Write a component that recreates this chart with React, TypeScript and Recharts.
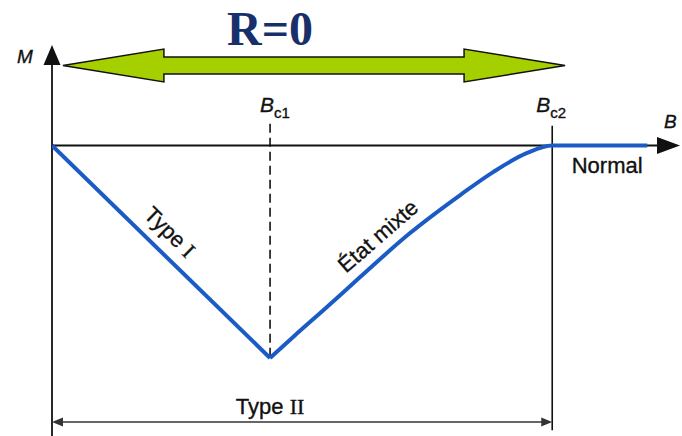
import React from 'react';
import { LineChart, Line, XAxis, YAxis, ReferenceLine, ReferenceArea, ReferenceDot } from 'recharts';

// branche Type I : droite de l'origine jusqu'a Bc1
const typeIB = [0, 1];
const typeIM = [0, -1];

// état mixte puis état normal (M = 0 au-dela de Bc2)
const mixteB = [1, 1.106, 1.261, 1.413, 1.642, 1.872, 2.023, 2.179, 2.294, 2.73];
const mixteM = [-1, -0.901, -0.76, -0.619, -0.412, -0.233, -0.125, -0.035, 0, 0];

const BC1 = 1;
const BC2 = 2.294;
const B_MAX = 2.88;
const M_MIN = -1.367;
const M_MAX = 0.473;

const typeIData = typeIB.map((b, i) => ({ b, m: typeIM[i] }));
const mixteData = mixteB.map((b, i) => ({ b, m: mixteM[i] }));

const SANS = '"Liberation Sans", Arial, sans-serif';
const SERIF = '"Liberation Serif", "Times New Roman", serif';
const BLUE = '#1a5bc6';
const INK = '#111';

// line with arrow head(s), used for the axes and the Type II span
const arrowLine = (both: boolean, len: number, half: number, color: string, width: number) => (p: any) => {
    const { x1, y1, x2, y2 } = p;
    const dx = x2 - x1;
    const dy = y2 - y1;
    const L = Math.hypot(dx, dy) || 1;
    const ux = dx / L;
    const uy = dy / L;
    const head = (tx: number, ty: number, sx: number, sy: number) => {
        const bx = tx - sx * len;
        const by = ty - sy * len;
        return `${tx},${ty} ${bx - sy * half},${by + sx * half} ${bx + sy * half},${by - sx * half}`;
    };
    const s = both ? len / 2 : 0;
    return (
        <g>
            <line
                x1={x1 + ux * s}
                y1={y1 + uy * s}
                x2={x2 - ux * (len / 2)}
                y2={y2 - uy * (len / 2)}
                stroke={color}
                strokeWidth={width}
            />
            <polygon points={head(x2, y2, ux, uy)} fill={color} />
            {both && <polygon points={head(x1, y1, -ux, -uy)} fill={color} />}
        </g>
    );
};

const greenArrow = (p: any) => {
    const { x, y, width, height } = p;
    const head = 101;
    const cy = y + height / 2;
    const sh = height * 0.258;
    const pts = [
        [x, cy],
        [x + head, y],
        [x + head, cy - sh],
        [x + width - head, cy - sh],
        [x + width - head, y],
        [x + width, cy],
        [x + width - head, y + height],
        [x + width - head, cy + sh],
        [x + head, cy + sh],
        [x + head, y + height],
    ];
    return (
        <polygon
            points={pts.map((q) => q.join(',')).join(' ')}
            fill="#a6cf00"
            stroke={INK}
            strokeWidth={1.5}
        />
    );
};

const textStyle = { stroke: INK, strokeWidth: 0.35 };

const plainText = (content: string, size: number, angle = 0) => (p: any) => (
    <text
        x={p.cx}
        y={p.cy}
        textAnchor="middle"
        dominantBaseline="central"
        fontFamily={SANS}
        fontSize={size}
        fill={INK}
        style={textStyle}
        transform={angle ? `rotate(${angle} ${p.cx} ${p.cy})` : undefined}
    >
        {content}
    </text>
);

const typeText = (roman: string, size: number, angle = 0) => (p: any) => (
    <text
        x={p.cx}
        y={p.cy}
        textAnchor="middle"
        dominantBaseline="central"
        fontFamily={SANS}
        fontSize={size}
        fill={INK}
        style={textStyle}
        transform={angle ? `rotate(${angle} ${p.cx} ${p.cy})` : undefined}
    >
        Type <tspan fontFamily={SERIF}>{roman}</tspan>
    </text>
);

const fieldLabel = (sub: string, dx: number) => (p: any) => (
    <text x={p.cx + dx} y={p.cy} fontFamily={SANS} fill={INK} style={textStyle}>
        <tspan fontStyle="italic" fontSize={21}>B</tspan>
        <tspan fontSize={15} dy={6}>{sub}</tspan>
    </text>
);

const axisLetter = (letter: string, dx: number) => (p: any) => (
    <text x={p.cx + dx} y={p.cy} fontFamily={SANS} fontStyle="italic" fontSize={19} fill={INK} style={textStyle}>
        {letter}
    </text>
);

const titleText = (p: any) => (
    <text
        x={p.cx}
        y={p.cy}
        textAnchor="middle"
        fontFamily={SERIF}
        fontWeight="bold"
        fontSize={48}
        fill="#172f6a"
    >
        R=0
    </text>
);

export default function App() {
    return (
        <div style={{ position: 'absolute', left: 0, top: 0, background: '#fff' }}>
            <LineChart width={682} height={436} margin={{ top: 45, right: 2, left: 52, bottom: 0 }}>
                <XAxis dataKey="b" type="number" domain={[0, B_MAX]} hide allowDataOverflow />
                <YAxis type="number" domain={[M_MIN, M_MAX]} hide allowDataOverflow />

                <ReferenceLine
                    segment={[{ x: 0, y: M_MIN }, { x: 0, y: M_MAX }]}
                    shape={arrowLine(false, 20, 8.5, INK, 1.8)}
                />
                <ReferenceLine
                    segment={[{ x: 0, y: 0 }, { x: B_MAX, y: 0 }]}
                    shape={arrowLine(false, 23, 8.5, INK, 1.8)}
                />
                <ReferenceLine
                    segment={[{ x: BC1, y: 0.102 }, { x: BC1, y: -1 }]}
                    stroke={INK}
                    strokeWidth={1.6}
                    strokeDasharray="9 5"
                />
                <ReferenceLine
                    segment={[{ x: BC2, y: 0.093 }, { x: BC2, y: -1.34 }]}
                    stroke={INK}
                    strokeWidth={1.6}
                />
                <ReferenceLine
                    segment={[{ x: 0, y: -1.301 }, { x: BC2, y: -1.301 }]}
                    shape={arrowLine(true, 11, 4.5, '#333', 1.5)}
                />

                <ReferenceArea x1={0.05} x2={2.353} y1={0.299} y2={0.454} shape={greenArrow} ifOverflow="visible" />

                <Line
                    data={typeIData}
                    dataKey="m"
                    type="linear"
                    stroke={BLUE}
                    strokeWidth={4}
                    dot={false}
                    isAnimationActive={false}
                />
                <Line
                    data={mixteData}
                    dataKey="m"
                    type="monotone"
                    stroke={BLUE}
                    strokeWidth={4}
                    dot={false}
                    isAnimationActive={false}
                />

                <ReferenceDot x={BC1} y={M_MAX} r={0} ifOverflow="visible" shape={titleText} />
                <ReferenceDot x={0} y={0.388} r={0} ifOverflow="visible" shape={axisLetter('M', -35)} />
                <ReferenceDot x={B_MAX} y={0.082} r={0} ifOverflow="visible" shape={axisLetter('B', -16)} />
                <ReferenceDot x={BC1} y={0.158} r={0} ifOverflow="visible" shape={fieldLabel('c1', -10)} />
                <ReferenceDot x={BC2} y={0.158} r={0} ifOverflow="visible" shape={fieldLabel('c2', -16)} />
                <ReferenceDot x={2.546} y={-0.096} r={0} ifOverflow="visible" shape={plainText('Normal', 22)} />
                <ReferenceDot x={0.541} y={-0.407} r={0} ifOverflow="visible" shape={typeText('I', 22, 44.3)} />
                <ReferenceDot x={1.495} y={-0.426} r={0} ifOverflow="visible" shape={plainText('État mixte', 22, -41)} />
                <ReferenceDot x={BC1} y={-1.226} r={0} ifOverflow="visible" shape={typeText('II', 22)} />
            </LineChart>
        </div>
    );
}
